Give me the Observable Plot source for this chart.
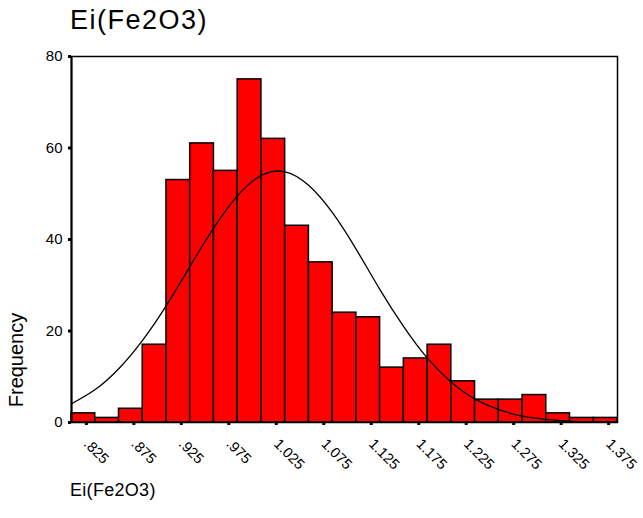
<!DOCTYPE html>
<html>
<head>
<meta charset="utf-8">
<script src="https://cdn.jsdelivr.net/npm/d3@7"></script>
<script src="https://cdn.jsdelivr.net/npm/@observablehq/plot@0.6"></script>
<style>
  body { margin: 0; background: #fff; }
  #wrap { position: relative; width: 643px; height: 518px; font-family: "Liberation Sans", Arial, sans-serif; color: #000; }
  #title { position: absolute; left: 70px; top: 5px; font-size: 27px; letter-spacing: 1.5px; white-space: nowrap; }
  #ylab { position: absolute; left: 16px; top: 360px; font-size: 20px; white-space: nowrap; transform: translate(-50%, -50%) rotate(-90deg); }
  #xlab { position: absolute; left: 70px; top: 480px; font-size: 18px; letter-spacing: 0.3px; white-space: nowrap; }
  #chart { position: absolute; left: 0; top: 0; }
</style>
</head>
<body>
<div id="wrap">
  <div id="chart"></div>
  <div id="title">Ei(Fe2O3)</div>
  <div id="ylab">Frequency</div>
  <div id="xlab">Ei(Fe2O3)</div>
</div>
<script>
// Histogram bin centres (bin width 0.025)
const binCenters = [0.825, 0.850, 0.875, 0.900, 0.925, 0.950, 0.975, 1.000, 1.025, 1.050, 1.075, 1.100,
                    1.125, 1.150, 1.175, 1.200, 1.225, 1.250, 1.275, 1.300, 1.325, 1.350, 1.375];
// Frequencies
const counts = [2, 1, 3, 17, 53, 61, 55, 75, 62, 43, 35, 24, 23, 12, 14, 17, 9, 5, 5, 6, 2, 1, 1];
const binWidth = 0.025;

// Normal curve overlay, values at bin edges
const curveX = [0.8125, 0.8375, 0.8625, 0.8875, 0.9125, 0.9375, 0.9625, 0.9875, 1.0125, 1.0375, 1.0625, 1.0875,
                1.1125, 1.1375, 1.1625, 1.1875, 1.2125, 1.2375, 1.2625, 1.2875, 1.3125, 1.3375, 1.3625, 1.3875];
const curveY = [4.1, 7.2, 11.8, 18.0, 25.6, 34.2, 42.6, 49.6, 54.0, 54.8, 51.8, 45.8,
                37.8, 29.0, 20.9, 14.0, 8.8, 5.1, 2.8, 1.4, 0.7, 0.3, 0.12, 0.05];

// Tick values / labels
const xTicks = [0.825, 0.875, 0.925, 0.975, 1.025, 1.075, 1.125, 1.175, 1.225, 1.275, 1.325, 1.375];
const yTicks = [0, 20, 40, 60, 80];

const bins = binCenters.map((c, i) => ({x1: c - binWidth / 2, x2: c + binWidth / 2, count: counts[i]}));
const curve = curveX.map((x, i) => ({x, y: curveY[i]}));

const fmt = d => { const s = d.toFixed(3); return s.startsWith("0") ? s.slice(1) : s; };

const plot = Plot.plot({
  width: 643,
  height: 518,
  marginTop: 56,
  marginBottom: 96,
  marginLeft: 71,
  marginRight: 26,
  style: {fontFamily: "'Liberation Sans', Arial, sans-serif", fontSize: "14px", color: "#000", background: "#fff"},
  x: {domain: [0.8125, 1.3875]},
  y: {domain: [0, 80]},
  marks: [
    Plot.rect(bins, {x1: "x1", x2: "x2", y1: 0, y2: "count", fill: "#ff0000", stroke: "#000", strokeWidth: 1.5}),
    Plot.line(curve, {x: "x", y: "y", curve: "natural", stroke: "#000", strokeWidth: 1.3}),
    Plot.frame({stroke: "#000", strokeWidth: 1.5}),
    Plot.ruleX([0.8125], {stroke: "#000", strokeWidth: 2}),
    Plot.axisY({ticks: yTicks, tickSize: 3, tickPadding: 6, strokeWidth: 3, label: null, fontSize: 15}),
    Plot.axisX({ticks: xTicks, tickFormat: fmt, tickSize: 3, tickPadding: 16, strokeWidth: 3, tickRotate: 45, label: null, fontSize: 14.5, dx: 3})
  ]
});
document.getElementById("chart").appendChild(plot);
</script>
</body>
</html>
